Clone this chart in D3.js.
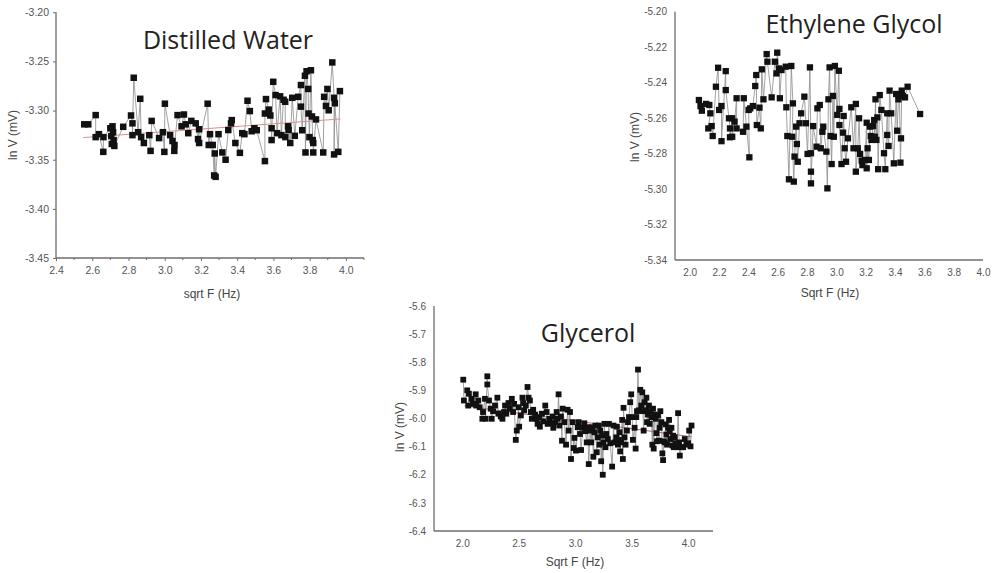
<!DOCTYPE html>
<html>
<head>
<meta charset="utf-8">
<script src="https://cdn.jsdelivr.net/npm/d3@7"></script>
<style>
  body { margin: 0; background: #fff; }
  svg { display: block; }
</style>
</head>
<body>
<svg id="chart"></svg>
<script>
// Distilled Water
const dwX = [2.556,2.578,2.619,2.619,2.637,2.661,2.662,2.700,2.705,2.708,2.712,2.715,2.718,2.722,2.771,2.814,2.822,2.822,2.829,2.853,2.865,2.870,2.885,2.915,2.922,2.928,2.969,2.990,2.998,3.001,3.030,3.043,3.053,3.054,3.071,3.093,3.106,3.116,3.130,3.147,3.171,3.184,3.190,3.190,3.237,3.243,3.250,3.265,3.273,3.276,3.281,3.297,3.318,3.336,3.351,3.366,3.370,3.390,3.415,3.428,3.440,3.457,3.470,3.480,3.495,3.508,3.553,3.553,3.559,3.574,3.583,3.590,3.590,3.599,3.612,3.620,3.637,3.644,3.656,3.665,3.666,3.681,3.684,3.693,3.704,3.718,3.737,3.752,3.752,3.759,3.774,3.777,3.783,3.792,3.794,3.799,3.807,3.813,3.817,3.820,3.820,3.835,3.875,3.880,3.890,3.898,3.905,3.925,3.935,3.935,3.939,3.958,3.967];
const dwY = [-3.314,-3.314,-3.3046,-3.327,-3.324,-3.342,-3.327,-3.318,-3.326,-3.334,-3.316,-3.322,-3.330,-3.336,-3.3165,-3.305,-3.313,-3.325,-3.2666,-3.322,-3.288,-3.327,-3.333,-3.325,-3.341,-3.3105,-3.328,-3.322,-3.342,-3.293,-3.325,-3.331,-3.341,-3.335,-3.3046,-3.316,-3.304,-3.314,-3.323,-3.3105,-3.313,-3.329,-3.319,-3.333,-3.293,-3.335,-3.324,-3.335,-3.366,-3.3436,-3.3674,-3.324,-3.3426,-3.350,-3.3198,-3.313,-3.3097,-3.333,-3.343,-3.323,-3.324,-3.290,-3.3005,-3.321,-3.318,-3.320,-3.3514,-3.303,-3.2883,-3.299,-3.305,-3.318,-3.330,-3.2707,-3.2842,-3.323,-3.2855,-3.325,-3.289,-3.291,-3.327,-3.316,-3.3198,-3.333,-3.287,-3.3257,-3.286,-3.274,-3.296,-3.320,-3.2646,-3.3426,-3.260,-3.278,-3.303,-3.327,-3.259,-3.306,-3.330,-3.333,-3.3426,-3.309,-3.3426,-3.286,-3.2953,-3.278,-3.2997,-3.251,-3.287,-3.3446,-3.2926,-3.342,-3.2802];
const dwFitX = [2.55, 3.97];
const dwFitY = [-3.3275, -3.3085];
const dwXTicks = [2.4,2.6,2.8,3.0,3.2,3.4,3.6,3.8,4.0];
const dwYTicks = [-3.20,-3.25,-3.30,-3.35,-3.40,-3.45];

// Ethylene Glycol
const egX = [2.063,2.074,2.083,2.112,2.134,2.141,2.127,2.150,2.157,2.179,2.194,2.201,2.217,2.217,2.246,2.246,2.268,2.275,2.275,2.290,2.290,2.306,2.320,2.320,2.364,2.369,2.387,2.407,2.402,2.413,2.431,2.447,2.454,2.458,2.476,2.485,2.492,2.503,2.525,2.530,2.559,2.581,2.592,2.597,2.610,2.615,2.626,2.655,2.659,2.666,2.677,2.693,2.704,2.699,2.710,2.715,2.726,2.731,2.737,2.749,2.760,2.782,2.793,2.804,2.820,2.827,2.827,2.827,2.842,2.865,2.871,2.887,2.894,2.905,2.911,2.932,2.939,2.946,2.954,2.961,2.968,2.977,2.983,2.990,3.006,3.017,3.021,3.021,3.035,3.046,3.050,3.057,3.066,3.079,3.102,3.117,3.133,3.133,3.146,3.155,3.162,3.173,3.178,3.196,3.207,3.207,3.213,3.222,3.229,3.235,3.240,3.251,3.258,3.262,3.267,3.273,3.280,3.285,3.296,3.307,3.325,3.334,3.347,3.347,3.356,3.363,3.374,3.392,3.408,3.415,3.423,3.430,3.437,3.441,3.446,3.453,3.468,3.486,3.571];
const egY = [-5.2498,-5.2532,-5.2558,-5.2520,-5.2526,-5.2573,-5.2658,-5.2645,-5.2701,-5.2423,-5.2316,-5.2554,-5.2532,-5.2730,-5.2335,-5.2442,-5.2601,-5.2658,-5.2708,-5.2601,-5.2705,-5.2620,-5.2488,-5.2658,-5.2677,-5.2488,-5.2648,-5.2821,-5.2554,-5.2545,-5.2532,-5.2419,-5.2357,-5.2639,-5.2541,-5.2658,-5.2325,-5.2494,-5.2239,-5.2282,-5.2483,-5.2282,-5.2348,-5.2231,-5.2320,-5.2488,-5.2329,-5.2310,-5.2539,-5.2701,-5.2945,-5.2306,-5.2517,-5.2705,-5.2958,-5.2817,-5.2648,-5.2746,-5.2846,-5.2629,-5.2573,-5.2479,-5.2629,-5.2802,-5.2314,-5.2798,-5.2902,-5.2968,-5.2645,-5.2761,-5.2545,-5.2526,-5.2770,-5.2677,-5.2648,-5.2789,-5.2996,-5.2494,-5.2314,-5.2701,-5.2859,-5.2475,-5.2705,-5.2306,-5.2582,-5.2333,-5.2548,-5.2639,-5.2859,-5.2682,-5.2588,-5.2770,-5.2846,-5.2714,-5.2539,-5.2770,-5.2520,-5.2902,-5.2770,-5.2601,-5.2802,-5.2840,-5.2865,-5.2836,-5.2626,-5.2883,-5.2770,-5.2836,-5.2648,-5.2701,-5.2723,-5.2645,-5.2611,-5.2705,-5.2494,-5.2723,-5.2596,-5.2888,-5.2470,-5.2554,-5.2798,-5.2888,-5.2573,-5.2695,-5.2757,-5.2445,-5.2573,-5.2855,-5.2464,-5.2671,-5.2494,-5.2470,-5.2851,-5.2714,-5.2445,-5.2475,-5.2483,-5.2423,-5.2577];
const egXTicks = [2.0,2.2,2.4,2.6,2.8,3.0,3.2,3.4,3.6,3.8,4.0];
const egYTicks = [-5.20,-5.22,-5.24,-5.26,-5.28,-5.30,-5.32,-5.34];

// Glycerol
const glX = [2.009,2.015,2.044,2.059,2.053,2.083,2.095,2.119,2.124,2.142,2.154,2.178,2.184,2.201,2.207,2.222,2.222,2.237,2.252,2.261,2.273,2.290,2.311,2.320,2.341,2.356,2.370,2.379,2.390,2.409,2.421,2.439,2.450,2.459,2.474,2.483,2.498,2.504,2.519,2.533,2.539,2.548,2.563,2.578,2.587,2.599,2.607,2.616,2.628,2.646,2.658,2.667,2.681,2.687,2.705,2.717,2.735,2.747,2.756,2.770,2.785,2.800,2.806,2.824,2.836,2.844,2.853,2.859,2.874,2.883,2.889,2.904,2.919,2.933,2.942,2.954,2.963,2.978,2.987,2.993,3.007,3.022,3.031,3.043,3.052,3.067,3.081,3.090,3.102,3.111,3.120,3.132,3.141,3.150,3.161,3.170,3.179,3.191,3.200,3.209,3.215,3.221,3.230,3.239,3.244,3.250,3.259,3.268,3.274,3.289,3.298,3.310,3.327,3.339,3.348,3.363,3.369,3.378,3.387,3.393,3.398,3.407,3.416,3.422,3.428,3.437,3.446,3.458,3.467,3.476,3.487,3.496,3.505,3.511,3.526,3.535,3.541,3.547,3.556,3.564,3.576,3.585,3.594,3.600,3.606,3.615,3.624,3.630,3.636,3.644,3.653,3.659,3.665,3.674,3.683,3.689,3.695,3.704,3.713,3.719,3.724,3.733,3.742,3.748,3.754,3.763,3.772,3.778,3.784,3.793,3.801,3.807,3.813,3.822,3.831,3.837,3.843,3.852,3.861,3.867,3.873,3.881,3.890,3.902,3.911,3.920,3.926,3.941,3.956,3.970,3.985,4.000,4.009,4.021,4.030];
const glY = [-5.862,-5.936,-5.900,-5.912,-5.954,-5.930,-5.948,-5.914,-5.954,-5.936,-5.960,-6.001,-5.977,-5.930,-6.001,-5.850,-5.879,-5.936,-5.965,-6.001,-5.974,-5.954,-5.926,-5.983,-5.993,-6.001,-5.977,-5.954,-5.983,-5.945,-5.965,-5.930,-5.977,-5.948,-6.076,-6.043,-5.960,-6.029,-5.989,-5.926,-5.945,-5.971,-5.954,-5.888,-5.926,-5.936,-5.977,-6.001,-5.969,-5.986,-6.001,-6.019,-5.995,-6.029,-5.983,-6.010,-5.954,-5.977,-6.019,-6.001,-6.017,-5.993,-6.033,-6.013,-5.977,-6.001,-5.914,-6.025,-5.993,-6.079,-5.965,-6.013,-6.093,-5.969,-6.043,-5.977,-6.144,-6.013,-6.105,-6.069,-6.114,-6.031,-6.013,-6.055,-6.112,-6.033,-6.017,-6.045,-6.085,-6.031,-6.162,-6.043,-6.085,-6.031,-6.136,-6.049,-6.025,-6.120,-6.067,-6.025,-6.093,-6.043,-6.152,-6.061,-6.200,-6.085,-6.019,-6.102,-6.055,-6.073,-6.019,-6.088,-6.171,-6.025,-6.085,-6.067,-6.029,-6.093,-6.076,-6.049,-6.117,-6.085,-6.005,-6.144,-5.962,-6.067,-6.093,-6.043,-6.013,-5.995,-5.942,-5.914,-5.995,-6.076,-6.033,-6.107,-5.995,-5.974,-5.826,-5.971,-5.898,-5.954,-5.907,-5.974,-6.043,-5.942,-5.971,-5.926,-6.013,-5.986,-5.954,-6.019,-5.974,-5.995,-6.093,-5.965,-6.107,-5.986,-6.001,-6.052,-6.081,-5.989,-6.079,-6.033,-5.974,-6.013,-6.124,-6.148,-6.081,-6.085,-6.021,-6.057,-6.093,-6.033,-6.005,-6.045,-6.073,-6.033,-6.096,-6.061,-6.102,-6.067,-6.088,-6.102,-5.981,-6.085,-6.132,-6.102,-6.102,-6.073,-6.093,-6.088,-6.043,-6.099,-6.025];
const glFitX = [2.02, 4.03];
const glFitY = [-5.955, -6.065];
const glXTicks = [2.0,2.5,3.0,3.5,4.0];
const glYTicks = [-5.6,-5.7,-5.8,-5.9,-6.0,-6.1,-6.2,-6.3,-6.4];

const W = 995, H = 573;
const svg = d3.select("#chart").attr("width", W).attr("height", H);
const sans = "'Liberation Sans', Arial, sans-serif";

const panels = [
  {
    title: "Distilled Water", titleX: 228, titleY: 49,
    xs: dwX, ys: dwY, fitX: dwFitX, fitY: dwFitY,
    xTicks: dwXTicks, yTicks: dwYTicks, xFmt: ".1f", yFmt: ".2f",
    xDomain: [2.4, 4.1], xRange: [56, 364],
    yDomain: [-3.45, -3.20], yRange: [258, 12.3],
    minorX: d3.range(2.5, 4.11, 0.2), showTicks: true,
    xLabel: "sqrt F (Hz)", xLabelX: 212, xLabelY: 298,
    yLabelX: 17, yLabelY: 135, tickSize: 10.5, marker: 6.5, fitColor: "#d9908c"
  },
  {
    title: "Ethylene Glycol", titleX: 854, titleY: 33,
    xs: egX, ys: egY, fitX: null, fitY: null,
    xTicks: egXTicks, yTicks: egYTicks, xFmt: ".1f", yFmt: ".2f",
    xDomain: [1.9, 4.0], xRange: [675, 983],
    yDomain: [-5.34, -5.20], yRange: [260, 11.7],
    minorX: [], showTicks: false,
    xLabel: "Sqrt F (Hz)", xLabelX: 830, xLabelY: 297,
    yLabelX: 639, yLabelY: 137, tickSize: 10, marker: 6.3, fitColor: null
  },
  {
    title: "Glycerol", titleX: 588, titleY: 342,
    xs: glX, ys: glY, fitX: glFitX, fitY: glFitY,
    xTicks: glXTicks, yTicks: glYTicks, xFmt: ".1f", yFmt: ".1f",
    xDomain: [1.75, 4.22], xRange: [434, 713],
    yDomain: [-6.4, -5.6], yRange: [531, 306],
    minorX: [], showTicks: false,
    xLabel: "Sqrt F (Hz)", xLabelX: 575, xLabelY: 566,
    yLabelX: 404, yLabelY: 427, tickSize: 10, marker: 5.8, fitColor: "#b06868"
  }
];

panels.forEach(p => {
  const g = svg.append("g");
  const x = d3.scaleLinear().domain(p.xDomain).range(p.xRange);
  const y = d3.scaleLinear().domain(p.yDomain).range(p.yRange);
  const x0 = p.xRange[0], yb = p.yRange[0];

  // axes
  const xAxis = d3.axisBottom(x).tickValues(p.xTicks).tickFormat(d3.format(p.xFmt))
    .tickSize(p.showTicks ? 3 : 0).tickPadding(p.showTicks ? 6 : 9);
  const yAxis = d3.axisLeft(y).tickValues(p.yTicks).tickFormat(d => d3.format(p.yFmt)(d).replace("−", "-"))
    .tickSize(p.showTicks ? 3 : 0).tickPadding(p.showTicks ? 4 : 8);

  const gx = g.append("g").attr("transform", `translate(0,${yb})`).call(xAxis);
  const gy = g.append("g").attr("transform", `translate(${x0},0)`).call(yAxis);
  [gx, gy].forEach(a => {
    a.select(".domain").attr("stroke", "#6e6e6e").attr("stroke-width", 1.3);
    a.selectAll(".tick line").attr("stroke", "#6e6e6e");
    a.selectAll(".tick text").attr("fill", "#555").attr("font-size", p.tickSize)
      .attr("font-family", sans);
  });
  gx.select(".domain").attr("d", `M${p.xRange[0]},0H${p.xRange[1]}`);
  gy.select(".domain").attr("d", `M0,${p.yRange[0]}V${p.yRange[1]}`);

  if (p.minorX.length) {
    g.append("g").selectAll("line").data(p.minorX).join("line")
      .attr("x1", d => x(d)).attr("x2", d => x(d))
      .attr("y1", yb).attr("y2", yb + 2)
      .attr("stroke", "#6e6e6e");
  }

  // axis titles
  g.append("text").attr("x", p.xLabelX).attr("y", p.xLabelY)
    .attr("text-anchor", "middle").attr("font-size", 12).attr("fill", "#444")
    .attr("font-family", sans).text(p.xLabel);
  g.append("text")
    .attr("transform", `translate(${p.yLabelX},${p.yLabelY}) rotate(-90)`)
    .attr("text-anchor", "middle").attr("font-size", 12).attr("fill", "#444")
    .attr("font-family", sans).text("ln V (mV)");

  // connecting line
  const pts = p.xs.map((v, i) => [v, p.ys[i]]);
  g.append("path").datum(pts)
    .attr("fill", "none").attr("stroke", "#8a8a8a").attr("stroke-width", 0.8)
    .attr("d", d3.line().x(d => x(d[0])).y(d => y(d[1])));

  // fit line
  if (p.fitX) {
    g.append("line")
      .attr("x1", x(p.fitX[0])).attr("y1", y(p.fitY[0]))
      .attr("x2", x(p.fitX[1])).attr("y2", y(p.fitY[1]))
      .attr("stroke", p.fitColor).attr("stroke-width", 1);
  }

  // markers
  const s = p.marker;
  g.append("g").selectAll("rect").data(pts).join("rect")
    .attr("x", d => x(d[0]) - s / 2).attr("y", d => y(d[1]) - s / 2)
    .attr("width", s).attr("height", s).attr("fill", "#111");

  // title
  g.append("text").attr("x", p.titleX).attr("y", p.titleY)
    .attr("text-anchor", "middle").attr("font-size", 25).attr("fill", "#222")
    .attr("font-family", "'Open Sans', sans-serif").text(p.title);
});
</script>
</body>
</html>
